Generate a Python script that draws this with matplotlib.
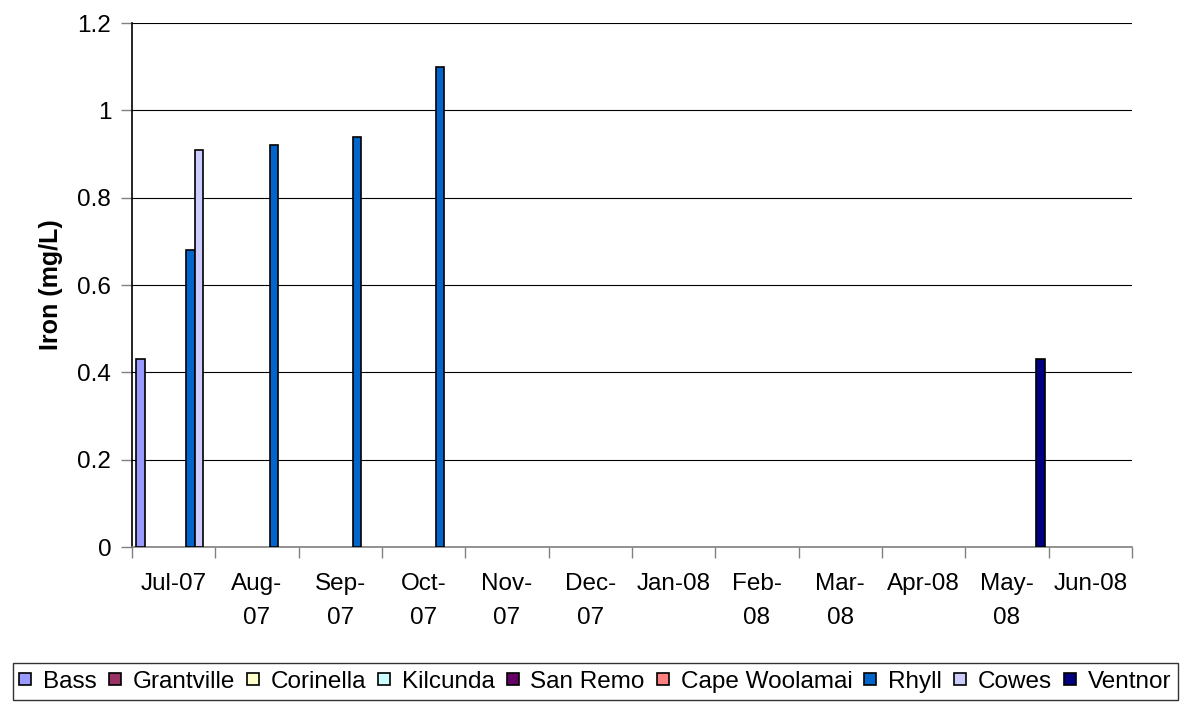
import matplotlib
matplotlib.use("Agg")
import matplotlib.pyplot as plt
from matplotlib.lines import Line2D
import numpy as np

plt.rcParams['font.family'] = ['Liberation Sans', 'DejaVu Sans']

months = ["Jul-07", "Aug-\n07", "Sep-\n07", "Oct-\n07", "Nov-\n07", "Dec-\n07",
          "Jan-08", "Feb-\n08", "Mar-\n08", "Apr-08", "May-\n08", "Jun-08"]
series_names = ["Bass", "Grantville", "Corinella", "Kilcunda", "San Remo",
                "Cape Woolamai", "Rhyll", "Cowes", "Ventnor"]
colors = ["#9999FF", "#993366", "#FFFFCC", "#CCFFFF", "#660066",
          "#FF8080", "#0066CC", "#CCCCFF", "#000080"]

bass       = [0.43, 0, 0, 0, 0, 0, 0, 0, 0, 0, 0, 0]
grantville = [0, 0, 0, 0, 0, 0, 0, 0, 0, 0, 0, 0]
corinella  = [0, 0, 0, 0, 0, 0, 0, 0, 0, 0, 0, 0]
kilcunda   = [0, 0, 0, 0, 0, 0, 0, 0, 0, 0, 0, 0]
san_remo   = [0, 0, 0, 0, 0, 0, 0, 0, 0, 0, 0, 0]
cape_wool  = [0, 0, 0, 0, 0, 0, 0, 0, 0, 0, 0, 0]
rhyll      = [0.68, 0.92, 0.94, 1.10, 0, 0, 0, 0, 0, 0, 0, 0]
cowes      = [0.91, 0, 0, 0, 0, 0, 0, 0, 0, 0, 0, 0]
ventnor    = [0, 0, 0, 0, 0, 0, 0, 0, 0, 0, 0.43, 0]

data = [bass, grantville, corinella, kilcunda, san_remo, cape_wool, rhyll, cowes, ventnor]

FS = 17.5

fig = plt.figure(figsize=(11.91, 7.04), dpi=100)
ax = fig.add_axes([132/1191, 1-547/704, 1000/1191, 524/704])

n = len(series_names)
x = np.arange(len(months))
w = 0.9 / n
handles = []
for i, (vals, name, c) in enumerate(zip(data, series_names, colors)):
    vals = np.array(vals, dtype=float)
    pos = x + (i - (n - 1) / 2) * w
    mask = vals > 0
    ax.bar(pos[mask], vals[mask], width=w, color=c, edgecolor='black', linewidth=1.2,
           zorder=3)
    handles.append(Line2D([], [], linestyle='none', marker='s', markersize=8.5,
                          markerfacecolor=c, markeredgecolor='black',
                          markeredgewidth=1.2, label=name))

ax.set_xlim(-0.5, len(months) - 0.5)
ax.set_ylim(0, 1.2)
ax.set_yticks([0, 0.2, 0.4, 0.6, 0.8, 1.0, 1.2])
ax.set_yticklabels(["0", "0.2", "0.4", "0.6", "0.8", "1", "1.2"], fontsize=FS)
ax.yaxis.grid(True, color='#000000', linewidth=0.8, zorder=0)
ax.set_axisbelow(True)

ax.set_xticks(x)
ax.set_xticklabels(months, fontsize=FS, va='top', linespacing=1.7)
ax.set_xticks(np.arange(len(months) + 1) - 0.5, minor=True)
ax.tick_params(axis='x', which='major', length=0, pad=19)
ax.tick_params(axis='x', which='minor', length=8, width=1, color='#808080')
ax.tick_params(axis='y', length=8, width=1, color='#808080', pad=7)

for s in ['top', 'right']:
    ax.spines[s].set_visible(False)
ax.spines['left'].set_color('#000000')
ax.spines['bottom'].set_color('#808080')
ax.spines['left'].set_linewidth(1.2)
ax.spines['bottom'].set_linewidth(1.2)

ax.set_ylabel("Iron (mg/L)", fontsize=18, fontweight='bold', labelpad=10)

leg = fig.legend(handles=handles, loc='lower center', bbox_to_anchor=(0.5, 4/704), ncol=9,
                 fontsize=FS, frameon=True, fancybox=False, edgecolor='black',
                 handlelength=0.45, handletextpad=0.5,
                 columnspacing=0.52, borderpad=0.3, borderaxespad=0)
leg.get_frame().set_linewidth(1.0)

fig.savefig("out.png", dpi=100)
